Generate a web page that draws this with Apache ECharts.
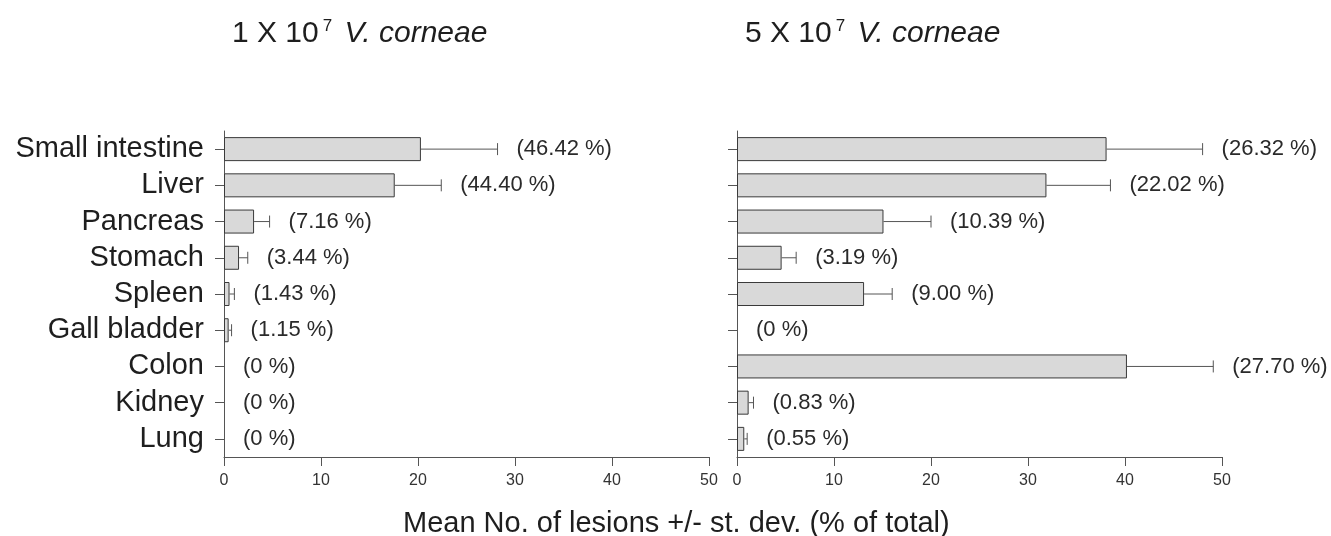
<!DOCTYPE html>
<html>
<head>
<meta charset="utf-8">
<script src="https://cdn.jsdelivr.net/npm/echarts@6/dist/echarts.min.js"></script>
<style>html,body{margin:0;padding:0;background:#fff;}#c{width:1331px;height:536px;}</style>
</head>
<body>
<div id="c"></div>
<script>
const categories = ['Small intestine','Liver','Pancreas','Stomach','Spleen','Gall bladder','Colon','Kidney','Lung'];
const lowMean = [20.3, 17.6, 3.1, 1.55, 0.57, 0.48, 0, 0, 0];
const lowSd   = [7.9, 4.8, 1.6, 0.9, 0.5, 0.3, 0, 0, 0];
const lowPct  = ['(46.42 %)','(44.40 %)','(7.16 %)','(3.44 %)','(1.43 %)','(1.15 %)','(0 %)','(0 %)','(0 %)'];
const highMean = [38.1, 31.9, 15.1, 4.6, 13.1, 0, 40.2, 1.2, 0.75];
const highSd   = [9.9, 6.6, 4.9, 1.5, 2.9, 0, 8.9, 0.5, 0.3];
const highPct  = ['(26.32 %)','(22.02 %)','(10.39 %)','(3.19 %)','(9.00 %)','(0 %)','(27.70 %)','(0.83 %)','(0.55 %)'];
const xTicks = [0, 10, 20, 30, 40, 50];
const titles = [['1 X 10','7','V. corneae'], ['5 X 10','7','V. corneae']];
const xAxisTitle = 'Mean No. of lesions +/- st. dev. (% of total)';

const FONT = "'Liberation Sans', Arial, Helvetica, sans-serif";
const chart = echarts.init(document.getElementById('c'), null, {renderer:'canvas'});

function errRender(labels){
  return function(params, api){
    const mean = api.value(0), cat = api.value(1), sd = api.value(2);
    const p0 = api.coord([mean, cat]);
    const p1 = api.coord([mean + sd, cat]);
    const children = [];
    if (sd > 0) {
      children.push({type:'line', shape:{x1:p0[0], y1:p0[1], x2:p1[0], y2:p1[1]}, style:{stroke:'#555', lineWidth:1}});
      children.push({type:'line', shape:{x1:p1[0], y1:p1[1]-6, x2:p1[0], y2:p1[1]+6}, style:{stroke:'#555', lineWidth:1}});
    }
    children.push({type:'text', x:p1[0] + 19, y:p1[1], style:{text:labels[params.dataIndex], font:'22px ' + FONT, fill:'#2a2a2a', textVerticalAlign:'middle', verticalAlign:'middle', textAlign:'left', align:'left'}});
    return {type:'group', children};
  };
}

function xAxisCfg(gi){
  return {
    gridIndex: gi, type:'value', min: xTicks[0], max: xTicks[xTicks.length-1], interval: xTicks[1]-xTicks[0],
    splitLine:{show:false},
    axisLine:{show:true, lineStyle:{color:'#555', width:1}},
    axisTick:{show:true, length:9, lineStyle:{color:'#555'}},
    axisLabel:{fontSize:16, color:'#333', fontFamily:FONT, margin:16}
  };
}
function yAxisCfg(gi, showLabels){
  return {
    gridIndex: gi, type:'category', data: categories, inverse:true,
    axisLine:{show:true, lineStyle:{color:'#555', width:1}},
    axisTick:{show:true, length:9, alignWithLabel:true, interval:0, lineStyle:{color:'#555'}},
    axisLabel:{show:showLabels, interval:0, hideOverlap:false, fontSize:29, color:'#1e1e1e', fontFamily:FONT, margin:20}
  };
}
function barSeries(gi, data){
  return {type:'bar', xAxisIndex:gi, yAxisIndex:gi,
    data: data.map(v => v === 0 ? {value:0, itemStyle:{borderWidth:0}} : v), barWidth:24,
    itemStyle:{color:'#d9d9d9', borderColor:'#3a3a3a', borderWidth:1}, silent:true, animation:false};
}
function errSeries(gi, means, sds, labels){
  return {type:'custom', xAxisIndex:gi, yAxisIndex:gi,
    data: means.map((m,i)=>[m, i, sds[i]]), encode:{x:0, y:1},
    renderItem: errRender(labels), silent:true, animation:false, z:3};
}
function titleGraphic(x, t){
  return {type:'text', left:x, top:18, style:{
    text:'{n|' + t[0] + '}{s|' + t[1] + '}{n| }{i|' + t[2] + '}',
    rich:{
      n:{fontSize:30, fontFamily:FONT, fill:'#1e1e1e', color:'#1e1e1e', verticalAlign:'bottom'},
      s:{fontSize:17, fontFamily:FONT, fill:'#1e1e1e', color:'#1e1e1e', verticalAlign:'top', padding:[0,0,14,4]},
      i:{fontSize:30, fontFamily:FONT, fontStyle:'italic', fill:'#1e1e1e', color:'#1e1e1e', verticalAlign:'bottom', padding:[0,0,0,4]}
    }
  }};
}

chart.setOption({
  animation:false,
  backgroundColor:'#fff',
  grid:[
    {left:224, width:485, top:131, height:326},
    {left:737, width:485, top:131, height:326}
  ],
  xAxis:[xAxisCfg(0), xAxisCfg(1)],
  yAxis:[yAxisCfg(0, true), yAxisCfg(1, false)],
  series:[
    barSeries(0, lowMean), errSeries(0, lowMean, lowSd, lowPct),
    barSeries(1, highMean), errSeries(1, highMean, highSd, highPct)
  ],
  graphic:[
    titleGraphic(232, titles[0]),
    titleGraphic(745, titles[1]),
    {type:'text', left:403, top:509, style:{text:xAxisTitle, font:'29px ' + FONT, fill:'#1e1e1e'}}
  ]
});
</script>
</body>
</html>
